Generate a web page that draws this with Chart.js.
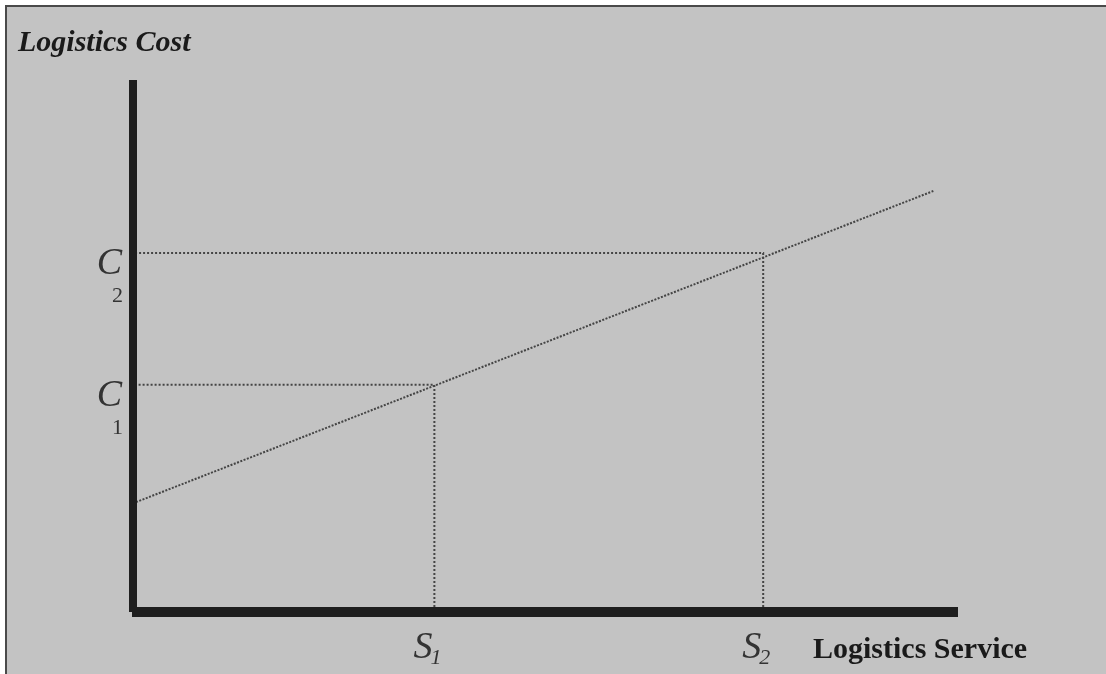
<!DOCTYPE html>
<html>
<head>
<meta charset="utf-8">
<script src="https://cdn.jsdelivr.net/npm/chart.js@4/dist/chart.umd.min.js"></script>
<style>
  html, body { margin: 0; padding: 0; background: #fff; }
  canvas { display: block; }
</style>
</head>
<body>
<canvas id="costChart" width="1106" height="674"></canvas>
<script>
// cost line (service -> cost), axis units 0..100
const costLineX = [0, 97];
const costLineY = [20.5, 79.1];

// service levels S1, S2 and the costs C1, C2 they give
const serviceLevels = [36.3, 76.3];
const costLevels = [42.6, 67.4];
const levelSubs = ['1', '2'];

const yTitle = 'Logistics Cost';
const xTitle = 'Logistics Service';

const lineData = costLineX.map((x, i) => ({ x: x, y: costLineY[i] }));

// dotted guides: up from the x axis to the line, then across to the y axis
const guideSets = serviceLevels.map((s, i) => ({
  data: [{ x: s, y: 0 }, { x: s, y: costLevels[i] }, { x: 0, y: costLevels[i] }],
  borderColor: '#454545',
  borderWidth: 2,
  borderDash: [2, 2],
  pointRadius: 0,
  fill: false,
  tension: 0
}));

const paperPlugin = {
  id: 'paper',
  beforeDraw(chart) {
    const c = chart.ctx;
    c.save();
    c.fillStyle = '#ffffff';
    c.fillRect(0, 0, chart.width, chart.height);
    c.fillStyle = '#c3c3c3';
    c.fillRect(5, 5, chart.width - 5, chart.height - 5);
    c.fillStyle = '#4a4a4a';
    c.fillRect(5, 5, chart.width - 5, 2);
    c.fillRect(5, 5, 2, chart.height - 5);
    c.restore();
  }
};

const axesPlugin = {
  id: 'axesText',
  afterDraw(chart) {
    const c = chart.ctx;
    const a = chart.chartArea;
    const xs = chart.scales.x, ys = chart.scales.y;
    c.save();
    // heavy axes
    c.fillStyle = '#1e1e1e';
    c.fillRect(a.left - 7, a.top, 8, a.bottom - a.top + 1);
    c.fillRect(a.left - 4, a.bottom - 4, 958 - a.left + 4, 10);

    c.fillStyle = '#1a1a1a';
    c.textBaseline = 'alphabetic';
    c.textAlign = 'left';
    c.font = 'italic bold 30px "Liberation Serif"';
    c.fillText(yTitle, 18, 51);
    c.font = 'bold 30px "Liberation Serif"';
    c.fillText(xTitle, 813, 658);

    c.fillStyle = '#333333';
    // C1, C2 on the y axis
    costLevels.forEach((v, i) => {
      const py = ys.getPixelForValue(v);
      c.textAlign = 'right';
      c.font = 'italic 38px "Liberation Serif"';
      c.fillText('C', 122, py + 21);
      c.font = '22px "Liberation Serif"';
      c.fillText(levelSubs[i], 123, py + 49);
    });
    // S1, S2 on the x axis
    serviceLevels.forEach((v, i) => {
      const px = xs.getPixelForValue(v);
      c.textAlign = 'left';
      c.font = 'italic 38px "Liberation Serif"';
      c.fillText('S', px - 21, 658);
      c.font = 'italic 22px "Liberation Serif"';
      c.fillText(levelSubs[i], px - 4, 664);
    });
    c.restore();
  }
};

new Chart(document.getElementById('costChart'), {
  type: 'line',
  data: {
    datasets: [
      {
        data: lineData,
        borderColor: '#454545',
        borderWidth: 2,
        borderDash: [2, 1.5],
        pointRadius: 0,
        fill: false,
        tension: 0
      },
      ...guideSets
    ]
  },
  options: {
    responsive: false,
    animation: false,
    layout: { padding: { left: 136, right: 148, top: 80, bottom: 63 } },
    plugins: { legend: { display: false }, tooltip: { enabled: false } },
    scales: {
      x: { type: 'linear', min: 0, max: 100, display: false },
      y: { type: 'linear', min: 0, max: 100, display: false }
    }
  },
  plugins: [paperPlugin, axesPlugin]
});
</script>
</body>
</html>
